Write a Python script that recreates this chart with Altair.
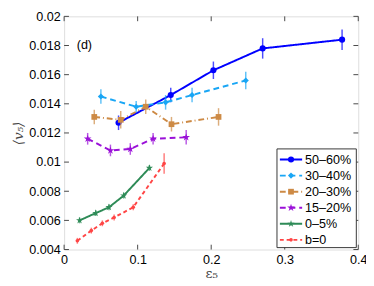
import altair as alt
import pandas as pd

series = ["50–60%", "30–40%", "20–30%", "15–20%", "0–5%", "b=0"]
colors = ["#0000FF", "#19A6F5", "#CD8A45", "#9A10D8", "#2E8B57", "#FF4545"]
dashes = [[1, 0], [6, 4], [6, 3, 1, 3], [6, 4], [1, 0], [4, 3]]
STAR = "M0,-1L0.22,-0.31L0.95,-0.31L0.36,0.12L0.59,0.81L0,0.38L-0.59,0.81L-0.36,0.12L-0.95,-0.31L-0.22,-0.31Z"
shapes = ["circle", "diamond", "square", STAR, STAR, "circle"]
sizes = [40, 40, 35, 70, 60, 14]

x_5060 = [0.074, 0.145, 0.203, 0.270, 0.378]
y_5060 = [0.0127, 0.0146, 0.0163, 0.0178, 0.0184]
e_5060 = [0.0005, 0.0005, 0.0006, 0.0007, 0.0007]

x_3040 = [0.050, 0.098, 0.138, 0.174, 0.247]
y_3040 = [0.0145, 0.0138, 0.0141, 0.0146, 0.0156]
e_3040 = [0.0005, 0.0004, 0.0005, 0.0005, 0.0006]

x_2030 = [0.041, 0.077, 0.111, 0.146, 0.210]
y_2030 = [0.0131, 0.0129, 0.0138, 0.0126, 0.0131]
e_2030 = [0.0005, 0.0006, 0.0005, 0.0005, 0.0006]

x_1520 = [0.032, 0.063, 0.090, 0.121, 0.166]
y_1520 = [0.0116, 0.0108, 0.0109, 0.0116, 0.0117]
e_1520 = [0.0004, 0.0004, 0.0004, 0.0004, 0.0005]

x_005 = [0.021, 0.043, 0.061, 0.081, 0.116]
y_005 = [0.0060, 0.0065, 0.0069, 0.0077, 0.0096]
e_005 = [0.0002, 0.0002, 0.0002, 0.0002, 0.0002]

x_b0 = [0.018, 0.037, 0.052, 0.068, 0.094, 0.136]
y_b0 = [0.0046, 0.0053, 0.0058, 0.0062, 0.0069, 0.0099]
e_b0 = [0.0002, 0.0002, 0.0002, 0.0002, 0.0002, 0.0007]

xs = [x_5060, x_3040, x_2030, x_1520, x_005, x_b0]
ys = [y_5060, y_3040, y_2030, y_1520, y_005, y_b0]
es = [e_5060, e_3040, e_2030, e_1520, e_005, e_b0]

x_ticks = [0, 0.1, 0.2, 0.3, 0.4]
y_ticks = [0.004, 0.006, 0.008, 0.01, 0.012, 0.014, 0.016, 0.018, 0.02]

W, H = 304, 241
FONT = "Liberation Sans"
xscale = alt.Scale(domain=[0, 0.4], nice=False, zero=False)
yscale = alt.Scale(domain=[0.004, 0.02], nice=False, zero=False)

XAX = alt.Axis(values=x_ticks, format="~g", title="ε₅", grid=False, labelFlush=False,
               labelOverlap=False, labelBound=False,
               ticks=False, domain=False, labelFontSize=13, labelFont=FONT, labelColor="#000",
               labelPadding=4, titleFont="DejaVu Serif", titleFontSize=14, titleFontWeight="normal",
               titleColor="#444", titlePadding=1)
YAX = alt.Axis(values=y_ticks, format="~g", title="⟨v₅⟩", grid=False, labelFlush=False,
               labelOverlap=False, labelBound=False,
               ticks=False, domain=False, labelFontSize=13, labelFont=FONT, labelColor="#000",
               labelPadding=4, titleFont="DejaVu Serif", titleFontSize=14, titleFontWeight="normal",
               titleFontStyle="italic", titleColor="#444", titlePadding=3)


def X(f):
    return alt.X(f, scale=xscale, axis=XAX, title="ε₅")


def Y(f):
    return alt.Y(f, scale=yscale, axis=YAX, title="⟨v₅⟩")


layers = []
for i, s in enumerate(series):
    df = pd.DataFrame({"x": xs[i], "y": ys[i], "lo": [a - b for a, b in zip(ys[i], es[i])],
                       "hi": [a + b for a, b in zip(ys[i], es[i])]})
    base = alt.Chart(df)
    err = base.mark_rule(color=colors[i], strokeWidth=1.5, opacity=0.7).encode(
        x=X("x:Q"), y=Y("lo:Q"), y2="hi:Q")
    line = base.mark_line(color=colors[i], strokeWidth=2, strokeDash=dashes[i]).encode(
        x=X("x:Q"), y=Y("y:Q"))
    pts = base.mark_point(color=colors[i], filled=True, opacity=1, shape=shapes[i], size=sizes[i]).encode(
        x=X("x:Q"), y=Y("y:Q"))
    layers += [err, line, pts]

xt = pd.DataFrame({"v": x_ticks})
yt = pd.DataFrame({"v": y_ticks})

tick_col = "#444"
layers.append(alt.Chart(xt).mark_rule(color=tick_col).encode(
    x=X("v:Q"), y=alt.value(H), y2=alt.value(H - 5)))
layers.append(alt.Chart(xt).mark_rule(color=tick_col).encode(
    x=X("v:Q"), y=alt.value(0), y2=alt.value(5)))
layers.append(alt.Chart(yt).mark_rule(color=tick_col).encode(
    y=Y("v:Q"), x=alt.value(0), x2=alt.value(5)))
layers.append(alt.Chart(yt).mark_rule(color=tick_col).encode(
    y=Y("v:Q"), x=alt.value(W), x2=alt.value(W - 5)))

# panel label
layers.append(alt.Chart(pd.DataFrame({"t": ["(d)"]})).mark_text(
    font=FONT, fontSize=13, align="left", baseline="middle", color="#000").encode(
    text="t:N", x=alt.value(13), y=alt.value(30)))

# legend
lx0, lx1, ly0, ly1 = 220, 302, 137, 239
layers.append(alt.Chart(pd.DataFrame({"a": [0]})).mark_rect(
    fill="white", stroke="#333", strokeWidth=1).encode(
    x=alt.value(lx0), x2=alt.value(lx1), y=alt.value(ly0), y2=alt.value(ly1)))
for i, s in enumerate(series):
    yy = 148 + i * 16.6
    d = pd.DataFrame({"t": [s]})
    layers.append(alt.Chart(d).mark_rule(color=colors[i], strokeWidth=2, strokeDash=dashes[i]).encode(
        x=alt.value(223), x2=alt.value(246), y=alt.value(yy)))
    layers.append(alt.Chart(d).mark_point(color=colors[i], filled=True, opacity=1,
                                          shape=shapes[i], size=sizes[i]).encode(
        x=alt.value(234.5), y=alt.value(yy)))
    layers.append(alt.Chart(d).mark_text(font=FONT, fontSize=13, align="left", baseline="middle",
                                         color="#000").encode(
        text="t:N", x=alt.value(249), y=alt.value(yy + 0.5)))

chart = alt.layer(*layers).properties(
    width=W, height=H,
    autosize=alt.AutoSizeParams(type="none"),
    padding={"left": 58, "top": 4, "right": 8, "bottom": 32},
).configure_view(stroke="#333", strokeWidth=1.2).configure(background="white")

chart.save("out.html", embed_options={"renderer": "svg", "actions": False})
